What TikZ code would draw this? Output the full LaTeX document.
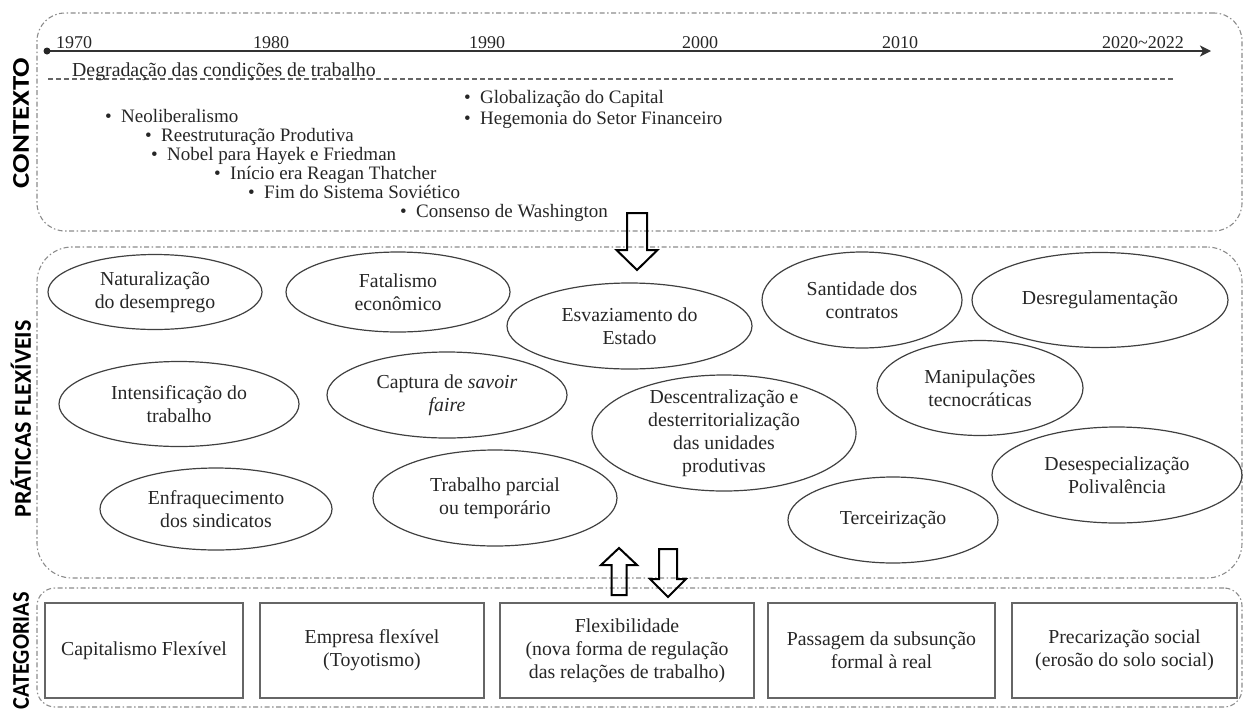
\documentclass[tikz,border=0pt]{standalone}
\usepackage{fontspec}
\setmainfont{Liberation Serif}
\newfontfamily\labfont{Carlito}
\usetikzlibrary{shapes.geometric,arrows.meta}
\newcommand\txtsize{\fontsize{19.8}{23}\selectfont}
\newcommand\bulsize{\fontsize{19}{19}\selectfont}
\newcommand\bitem[1]{\makebox[16pt][l]{•}#1}
\begin{document}
\begin{tikzpicture}[x=1pt,y=-1pt,
  panel/.style={draw=black!45, line width=1.1pt, dash pattern=on 5pt off 2.5pt on 1.5pt off 2.5pt, inner sep=0pt, minimum width=1205pt},
  ell/.style={ellipse, draw=black!75, line width=1.2pt, inner sep=0pt},
  lbl/.style={align=center, font=\txtsize, text=black!85, inner sep=0pt},
  cbox/.style={draw=black!60, line width=2pt, inner sep=0pt, align=center, font=\txtsize, text=black!85, minimum height=95pt},
  yr/.style={anchor=base, inner sep=0pt, font=\fontsize{18}{18}\selectfont, text=black!85},
  bul/.style={anchor=base west, inner sep=0pt, font=\bulsize, text=black!85, text height=12pt, text depth=3pt},
  side/.style={rotate=90, inner sep=0pt, font=\labfont\bfseries\fontsize{24}{24}\selectfont},
  blockarr/.style={draw=black, line width=2pt, line join=miter}
]
\useasboundingbox (0,0) rectangle (1244,718);

% panels
\node[panel, rounded corners=28pt, minimum height=218pt] (ctx) at (639.5,122) {};
\node[panel, rounded corners=35pt, minimum height=331pt] (prat) at (639.5,412.5) {};
\node[panel, rounded corners=18pt, minimum height=119pt] (cat) at (639.5,647.5) {};

% side labels
\node[side] (lctx) at (21,123) {\scalebox{1.2}[1]{CONTEXTO}};
\node[side] (lprat) at (21,419) {\scalebox{1.0}[1]{PRÁTICAS FLEXÍVEIS}};
\node[side, anchor=east] (lcat) at (21,592) {\scalebox{0.93}[1]{CATEGORIAS}};

% timeline
\coordinate (tl0) at (47,51);
\coordinate (tl1) at (1211,51);
\draw[line width=1.8pt, black!80, -{Stealth[length=11pt,width=11pt,inset=3pt]}] (tl0) -- (tl1);
\fill[black!85] (tl0) circle (3.5pt);
\node[yr] (y1) at (74,48) {1970};
\node[yr] (y2) at (271,48) {1980};
\node[yr] (y3) at (487,48) {1990};
\node[yr] (y4) at (700,48) {2000};
\node[yr] (y5) at (900,48) {2010};
\node[yr] (y6) at (1143,48) {2020\textasciitilde 2022};

\coordinate (d0) at (48,79);
\coordinate (d1) at (1173,79);
\draw[black!60, line width=1.1pt, dash pattern=on 5pt off 3pt] (d0) -- (d1);
\node[anchor=base west, inner sep=0pt, font=\txtsize, text=black!85] (deg) at (72,76.5) {Degradação das condições de trabalho};

% bullets
\node[bul] (b1) at (105,122) {\bitem{Neoliberalismo}};
\node[bul] (b2) at (145,141) {\bitem{Reestruturação Produtiva}};
\node[bul] (b3) at (151,160) {\bitem{Nobel para Hayek e Friedman}};
\node[bul] (b4) at (214,179) {\bitem{Início era Reagan Thatcher}};
\node[bul] (b5) at (248,198) {\bitem{Fim do Sistema Soviético}};
\node[bul] (b6) at (400,217) {\bitem{Consenso de Washington}};
\node[bul] (b7) at (464,103) {\bitem{Globalização do Capital}};
\node[bul] (b8) at (464,124) {\bitem{Hegemonia do Setor Financeiro}};

% ellipses
\node[ell, minimum width=214pt, minimum height=75pt, label={[lbl]center:{Naturalização\\do desemprego}}] (e1) at (155,292) {};
\node[ell, minimum width=240pt, minimum height=85pt, label={[lbl]center:{Intensificação do\\trabalho}}] (e2) at (179,404) {};
\node[ell, minimum width=232pt, minimum height=82pt, label={[lbl]center:{Enfraquecimento\\dos sindicatos}}] (e3) at (216,509) {};
\node[ell, minimum width=224pt, minimum height=80pt, label={[lbl]center:{Fatalismo\\econômico}}] (e4) at (398,292) {};
\node[ell, minimum width=240pt, minimum height=86pt, label={[lbl]center:{Captura de \textit{savoir}\\\textit{faire}}}] (e5) at (447,395) {};
\node[ell, minimum width=244pt, minimum height=96pt, label={[lbl]center:{Trabalho parcial\\ou temporário}}] (e6) at (495,498) {};
\node[ell, minimum width=245pt, minimum height=86pt, label={[lbl]center:{Esvaziamento do\\Estado}}] (e7) at (629.5,326) {};
\node[ell, minimum width=264pt, minimum height=116pt, label={[lbl]center:{Descentralização e\\desterritorialização\\das unidades\\produtivas}}] (e8) at (724,433) {};
\node[ell, minimum width=200pt, minimum height=96pt, label={[lbl]center:{Santidade dos\\contratos}}] (e9) at (862,300) {};
\node[ell, minimum width=256pt, minimum height=95pt, label={[lbl]center:{Desregulamentação}}] (e10) at (1100,300) {};
\node[ell, minimum width=206pt, minimum height=95pt, label={[lbl]center:{Manipulações\\tecnocráticas}}] (e11) at (980,388) {};
\node[ell, minimum width=250pt, minimum height=96pt, label={[lbl]center:{Desespecialização\\Polivalência}}] (e12) at (1117,475) {};
\node[ell, minimum width=210pt, minimum height=86pt, label={[lbl]center:{Terceirização}}] (e13) at (893,520) {};

% block arrows
\draw[blockarr] (627,213) -- (647,213) -- (647,250) -- (657.5,250) -- (637,270) -- (616.5,250) -- (627,250) -- cycle;
\draw[blockarr] (611.5,595) -- (626.5,595) -- (626.5,565) -- (637,565) -- (619,548) -- (601,565) -- (611.5,565) -- cycle;
\draw[blockarr] (659,549) -- (677,549) -- (677,579) -- (686,579) -- (668,597) -- (650,579) -- (659,579) -- cycle;

% category boxes
\node[cbox, minimum width=198pt] (c1) at (144,650.5) {Capitalismo Flexível};
\node[cbox, minimum width=224pt] (c2) at (372,650.5) {Empresa flexível\\(Toyotismo)};
\node[cbox, minimum width=254pt] (c3) at (627,650.5) {Flexibilidade\\(nova forma de regulação\\das relações de trabalho)};
\node[cbox, minimum width=227pt] (c4) at (881.5,650.5) {Passagem da subsunção\\formal à real};
\node[cbox, minimum width=225pt] (c5) at (1124.5,650.5) {Precarização social\\(erosão do solo social)};
\end{tikzpicture}
\end{document}
